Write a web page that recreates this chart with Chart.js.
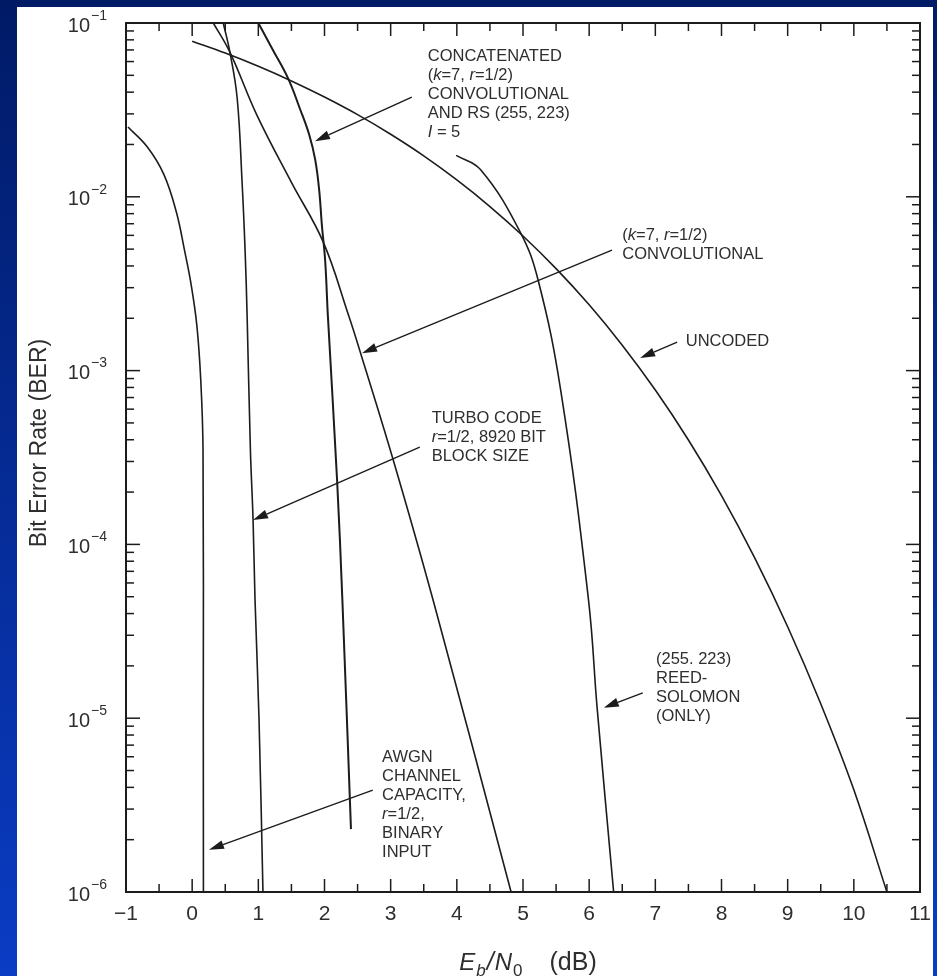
<!DOCTYPE html>
<html>
<head>
<meta charset="utf-8">
<title>Bit Error Rate vs Eb/N0</title>
<script src="https://cdn.jsdelivr.net/npm/chart.js@4.4.1/dist/chart.umd.min.js"></script>
<style>
  html, body { margin: 0; padding: 0; background: #0a2a9a; }
  #wrap { width: 937px; height: 976px; }
</style>
</head>
<body>
<div id="wrap"><canvas id="berChart" width="937" height="976"></canvas></div>
<script>
/* BER curves for a few coding schemes, drawn on a log axis */

const FONT = "'Liberation Sans', Arial, Helvetica, sans-serif";
const INK = "#1c1c1c";
const TEXT = "#2e2e2e";

// axis ticks
const xMajorTicks = [-1, 0, 1, 2, 3, 4, 5, 6, 7, 8, 9, 10, 11];
const berDecades = [1e-6, 1e-5, 1e-4, 1e-3, 1e-2, 1e-1];
const minorMantissas = [2, 3, 4, 5, 6, 7, 8, 9];

// uncoded
const uncodedEbN0 = [0, 0.5, 1, 1.5, 2, 2.5, 3, 3.5, 4, 4.5, 5, 5.5, 6, 6.5, 7, 7.5, 8, 8.5, 9, 9.5, 10, 10.5];
const uncodedBer = [7.86e-2, 6.71e-2, 5.63e-2, 4.64e-2, 3.75e-2, 2.97e-2, 2.29e-2, 1.72e-2, 1.25e-2, 8.79e-3,
  5.95e-3, 3.86e-3, 2.39e-3, 1.40e-3, 7.73e-4, 3.99e-4, 1.91e-4, 8.40e-5, 3.36e-5, 1.21e-5, 3.87e-6, 1.0e-6];

// (k=7, r=1/2) convolutional
const convEbN0 = [0.32, 0.57, 0.98, 1.5, 1.98, 2.36, 2.54, 3.04, 3.64, 4.82];
const convBer = [1e-1, 6.8e-2, 2.94e-2, 1.21e-2, 5.5e-3, 2.1e-3, 1.28e-3, 3.05e-4, 4.8e-5, 1.0e-6];

// concatenated convolutional + RS(255,223), I = 5
const concatEbN0 = [1.0, 1.22, 1.45, 1.63, 1.77, 1.86, 1.92, 1.96, 2.01, 2.05, 2.19, 2.27, 2.4];
const concatBer = [1e-1, 7.0e-2, 4.8e-2, 3.2e-2, 2.27e-2, 1.63e-2, 1.09e-2, 6.9e-3, 4.3e-3, 2.1e-3, 2.35e-4, 4.8e-5, 2.3e-6];

// turbo code r=1/2, 8920 bit block
const turboEbN0 = [0.47, 0.57, 0.68, 0.755, 0.8, 0.83, 0.88, 0.92, 0.95, 1.01, 1.07];
const turboBer = [1e-1, 6.8e-2, 3.7e-2, 1.2e-2, 4.9e-3, 2.1e-3, 3.5e-4, 1.4e-4, 4.8e-5, 1.0e-5, 1.0e-6];

// (255,223) Reed-Solomon only
const rsEbN0 = [3.99, 4.36, 4.96, 5.23, 5.57, 5.99, 6.12, 6.37];
const rsBer = [1.73e-2, 1.43e-2, 6.25e-3, 3.3e-3, 7.7e-4, 4.8e-5, 1.15e-5, 1.0e-6];

// AWGN channel capacity, r=1/2, binary input
const awgnEbN0 = [-0.97, -0.68, -0.43, -0.24, -0.11, -0.02, 0.07, 0.13, 0.164, 0.168, 0.17];
const awgnBer = [2.52e-2, 1.94e-2, 1.35e-2, 8.2e-3, 4.8e-3, 3.2e-3, 1.83e-3, 8.8e-4, 3.5e-4, 1.0e-5, 1.0e-6];

// callouts: text lines (*...* = italic), where the text starts, arrow tail and tip (dB, BER)
const notes = [
  { lines: ["CONCATENATED", "(*k*=7, *r*=1/2)", "CONVOLUTIONAL", "AND RS (255, 223)", "*I* = 5"],
    at: [3.56, 6.46e-2], tail: [3.32, 3.75e-2], tip: [1.856, 2.09e-2] },
  { lines: ["(*k*=7, *r*=1/2)", "CONVOLUTIONAL"],
    at: [6.5, 6.03e-3], tail: [6.345, 4.94e-3], tip: [2.567, 1.26e-3] },
  { lines: ["UNCODED"],
    at: [7.46, 1.48e-3], tail: [7.33, 1.46e-3], tip: [6.77, 1.18e-3] },
  { lines: ["TURBO CODE", "*r*=1/2, 8920 BIT", "BLOCK SIZE"],
    at: [3.62, 5.33e-4], tail: [3.44, 3.63e-4], tip: [0.919, 1.38e-4] },
  { lines: ["(255. 223)", "REED-", "SOLOMON", "(ONLY)"],
    at: [7.01, 2.19e-5], tail: [6.81, 1.4e-5], tip: [6.22, 1.15e-5] },
  { lines: ["AWGN", "CHANNEL", "CAPACITY,", "*r*=1/2,", "BINARY", "INPUT"],
    at: [2.87, 5.98e-6], tail: [2.73, 3.86e-6], tip: [0.254, 1.75e-6] }
];

const toPoints = (xs, ys) => xs.map((x, i) => ({ x: x, y: ys[i] }));

const curve = (label, xs, ys, width) => ({
  label: label,
  data: toPoints(xs, ys),
  borderColor: INK,
  borderWidth: width || 1.6,
  pointRadius: 0,
  fill: false,
  tension: 0.4
});

const line = (ctx, x1, y1, x2, y2) => {
  ctx.beginPath();
  ctx.moveTo(x1, y1);
  ctx.lineTo(x2, y2);
  ctx.stroke();
};

// draws "abc *ital* def" runs one after another
const richText = (ctx, str, x, y, size) => {
  const parts = str.split("*");
  let cx = x;
  parts.forEach((p, i) => {
    if (!p) return;
    ctx.font = (i % 2 ? "italic " : "") + size + "px " + FONT;
    ctx.fillText(p, cx, y);
    cx += ctx.measureText(p).width;
  });
};

const arrow = (ctx, x1, y1, x2, y2) => {
  const ang = Math.atan2(y2 - y1, x2 - x1);
  const headLen = 15, headHalf = 4.5;
  const bx = x2 - headLen * Math.cos(ang);
  const by = y2 - headLen * Math.sin(ang);
  ctx.lineWidth = 1.4;
  line(ctx, x1, y1, bx, by);
  ctx.beginPath();
  ctx.moveTo(x2, y2);
  ctx.lineTo(bx + headHalf * Math.sin(ang), by - headHalf * Math.cos(ang));
  ctx.lineTo(bx - headHalf * Math.sin(ang), by + headHalf * Math.cos(ang));
  ctx.closePath();
  ctx.fill();
};

const berDecor = {
  id: "berDecor",
  beforeDraw(chart) {
    const ctx = chart.ctx;
    ctx.save();
    const g = ctx.createLinearGradient(0, 0, 0, chart.height);
    g.addColorStop(0, "#001a66");
    g.addColorStop(1, "#0a3cc4");
    ctx.fillStyle = g;
    ctx.fillRect(0, 0, chart.width, chart.height);
    ctx.fillStyle = "#ffffff";
    ctx.fillRect(17, 7, 916, chart.height - 7);
    ctx.restore();
  },
  afterDatasetsDraw(chart) {
    const ctx = chart.ctx;
    const xs = chart.scales.x;
    const ys = chart.scales.y;
    const { left, right, top, bottom } = chart.chartArea;
    ctx.save();
    ctx.strokeStyle = INK;
    ctx.fillStyle = INK;

    // inward ticks, x (bottom and top)
    ctx.lineWidth = 1.5;
    xMajorTicks.forEach((v, i) => {
      const px = xs.getPixelForValue(v);
      line(ctx, px, bottom, px, bottom - 13);
      line(ctx, px, top, px, top + 13);
      if (i < xMajorTicks.length - 1) {
        const mx = xs.getPixelForValue(v + 0.5);
        line(ctx, mx, bottom, mx, bottom - 8);
        line(ctx, mx, top, mx, top + 8);
      }
    });

    // inward ticks, y (left and right), plus 10^n labels
    berDecades.forEach((d, i) => {
      const py = ys.getPixelForValue(d);
      line(ctx, left, py, left + 14, py);
      line(ctx, right, py, right - 14, py);
      if (i < berDecades.length - 1) {
        minorMantissas.forEach(m => {
          const my = ys.getPixelForValue(m * d);
          line(ctx, left, my, left + 8, my);
          line(ctx, right, my, right - 8, my);
        });
      }
      ctx.fillStyle = TEXT;
      ctx.textBaseline = "middle";
      ctx.textAlign = "right";
      ctx.font = "20px " + FONT;
      ctx.fillText("10", left - 36, py + 3);
      ctx.textAlign = "left";
      ctx.font = "14px " + FONT;
      ctx.fillText("\u2212" + Math.round(-Math.log10(d)), left - 35, py - 7);
    });

    // frame
    ctx.lineWidth = 2;
    ctx.strokeRect(left, top, right - left, bottom - top);

    // axis titles
    ctx.fillStyle = TEXT;
    ctx.save();
    ctx.translate(40, 443);
    ctx.rotate(-Math.PI / 2);
    ctx.textAlign = "center";
    ctx.textBaseline = "middle";
    ctx.font = "23px " + FONT;
    ctx.fillText("Bit Error Rate (BER)", 0, 0);
    ctx.restore();

    ctx.textAlign = "left";
    ctx.textBaseline = "alphabetic";
    const pieces = [
      ["E", "italic 24px " + FONT, 0, 1],
      ["b", "italic 17px " + FONT, 6, 1],
      ["/", "italic 25px " + FONT, 0, 1],
      ["N", "italic 24px " + FONT, 0, 1],
      ["0", "17px " + FONT, 6, 27],
      ["(dB)", "25px " + FONT, 0, 0]
    ];
    let total = 0;
    pieces.forEach(p => { ctx.font = p[1]; total += ctx.measureText(p[0]).width + p[3]; });
    let cx = (left + right) / 2 + 5 - total / 2;
    pieces.forEach(p => {
      ctx.font = p[1];
      ctx.fillText(p[0], cx, 970 + p[2]);
      cx += ctx.measureText(p[0]).width + p[3];
    });

    // callouts
    notes.forEach(n => {
      const x0 = xs.getPixelForValue(n.at[0]);
      const y0 = ys.getPixelForValue(n.at[1]);
      ctx.fillStyle = TEXT;
      ctx.textAlign = "left";
      ctx.textBaseline = "middle";
      n.lines.forEach((l, i) => richText(ctx, l, x0, y0 + i * 19, 16.5));
      ctx.fillStyle = INK;
      arrow(ctx,
        xs.getPixelForValue(n.tail[0]), ys.getPixelForValue(n.tail[1]),
        xs.getPixelForValue(n.tip[0]), ys.getPixelForValue(n.tip[1]));
    });
    ctx.restore();
  }
};

const chart = new Chart(document.getElementById("berChart"), {
  type: "line",
  data: {
    datasets: [
      curve("Uncoded", uncodedEbN0, uncodedBer),
      curve("(k=7, r=1/2) Convolutional", convEbN0, convBer),
      curve("Concatenated", concatEbN0, concatBer, 2),
      curve("Turbo code", turboEbN0, turboBer),
      curve("(255,223) Reed-Solomon", rsEbN0, rsBer),
      curve("AWGN capacity", awgnEbN0, awgnBer)
    ]
  },
  options: {
    responsive: false,
    devicePixelRatio: 1,
    animation: false,
    layout: { padding: { top: 23, right: 17, bottom: 0, left: 0 } },
    plugins: { legend: { display: false }, tooltip: { enabled: false } },
    scales: {
      x: {
        type: "linear",
        min: -1,
        max: 11,
        ticks: {
          stepSize: 1,
          autoSkip: false,
          maxRotation: 0,
          padding: 10,
          color: TEXT,
          font: { family: FONT, size: 21 },
          callback: v => String(v).replace("-", "\u2212")
        },
        grid: { display: false, drawTicks: false },
        border: { display: false },
        afterFit: s => {
          s.height = 84;
          s.paddingLeft = 0;
          s.paddingRight = 0;
        }
      },
      y: {
        type: "logarithmic",
        min: 1e-6,
        max: 1e-1,
        ticks: { display: false },
        grid: { display: false, drawTicks: false },
        border: { display: false },
        afterFit: s => { s.width = 126; }
      }
    }
  },
  plugins: [berDecor]
});
</script>
</body>
</html>
